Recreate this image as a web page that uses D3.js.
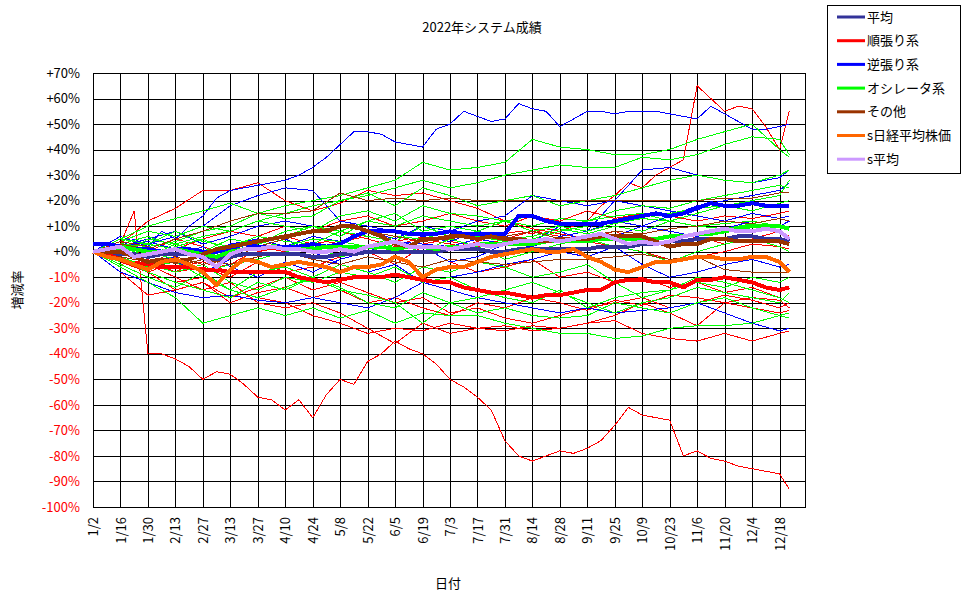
<!DOCTYPE html>
<html>
<head>
<meta charset="utf-8">
<script src="https://cdn.jsdelivr.net/npm/d3@7"></script>
<style>
body { margin: 0; background: #fff; }
text { font-family: "Noto Sans CJK JP", "Noto Sans", sans-serif; }
</style>
</head>
<body>
<div id="chart"></div>
<script>
// tick labels (every 2 weeks) and the weekly sample dates
const tickLabels = ['1/2','1/16','1/30','2/13','2/27','3/13','3/27','4/10','4/24','5/8','5/22','6/5','6/19','7/3','7/17','7/31','8/14','8/28','9/11','9/25','10/9','10/23','11/6','11/20','12/4','12/18'];
const biweekDates = tickLabels.concat(['12/23']);
const weekDates = ['1/2','1/9','1/16','1/23','1/30','2/6','2/13','2/20','2/27','3/6','3/13','3/20','3/27','4/3','4/10','4/17','4/24','5/1','5/8','5/15','5/22','5/29','6/5','6/12','6/19','6/26','7/3','7/10','7/17','7/24','7/31','8/7','8/14','8/21','8/28','9/4','9/11','9/18','9/25','10/2','10/9','10/16','10/23','10/30','11/6','11/13','11/20','11/27','12/4','12/11','12/18','12/23'];
const yTicks = [70,60,50,40,30,20,10,0,-10,-20,-30,-40,-50,-60,-70,-80,-90,-100];

// 順張り系 (thin)
const trend1 = [0,2,3,16,-40,-40,-42,-45,-50,-47,-48,-52,-57,-58,-62,-58,-65,-56,-50,-52,-43,-40,-35,-38,-40,-44,-50,-53,-57,-62,-74,-80,-82,-80,-78,-79,-77,-74,-68,-61,-64,-65,-66,-80,-78,-81,-82,-84,-85,-86,-87,-93];
const trend2 = [0,-2,-3,-5,-8,-6,-8,-5,-4,-6,-5,-2,0,1,0,2,3,4,3,5,6,5,4,5,3,4,3,2,4,6,7,8,7,9,8,10,12,18,22,27,25,30,33,36,65,60,55,57,56,49,40,55];
const trend3 = [0,3,12,17,24,24,27,20,16,19,24,22,23,20,17,12,9,7,5,8,4,2,6,3,5,8,6];
const trend4 = [0,-4,-8,-15,-12,-18,-14,-10,-15,-12,-16,-20,-18,-24,-22,-26,-28,-25,-22,-20,-18,-22,-20,-17,-19,-22,-20];
const trend5 = [0,-3,-8,-12,-10,-15,-18,-20,-25,-28,-32,-30,-31,-28,-30,-29,-31,-30,-28,-25,-20,-24,-29,-20,-18,-19,-22];
const trend6 = [0,2,-5,-10,-15,-12,-20,-22,-20,-24,-30,-36,-28,-32,-30,-31,-29,-30,-28,-27,-32,-34,-35,-32,-35,-32,-31];
const trend7 = [0,-5,-3,-8,-6,-10,-4,-8,-6,-2,0,-5,2,-4,-8,-6,-3,-10,-8,-12,-10,-14,-12,-16,-14,-18,-20];
const trend8 = [0,-8,-17,-15,-12,-20,-16,-14,-18,-15,-20,-18,-22,-25,-20,-22,-18,-20,-23,-19,-21,-17,-18,-20,-22,-24,-23];
const trend9 = [0,3,0,5,2,-2,4,6,3,8,5,2,6,4,2,5,8,6,4,2,0,-3,-2,0,3,2,1];
const trend10 = [0,2,4,1,5,8,6,10,8,12,14,10,12,15,12,10,14,12,16,13,15,14,12,14,13,15,16];

// 逆張り系 (thin)
const contra1 = [0,3,2,5,2,8,5,10,14,21,24,25,26,27,28,30,33,37,42,47,47,46,43,42,41,48,50,55,53,51,52,58,56,55,49,52,55,55,54,55,55,55,54,53,52,57,54,51,48,48,49,50];
const contra2 = [0,2,5,8,3,6,10,12,10,8,6,4,3,2,5,3,2,6,8,20,32,33,30,28,27,29,32];
const contra3 = [0,5,3,6,10,18,22,25,24,12,10,8,6,4,8,6,4,10,8,12,10,14,18,20,22,24,27];
const contra4 = [0,-8,-12,-16,-18,-17,-19,-20,-18,-20,-22,-18,-12,-15,-18,-20,-22,-24,-22,-24,-23,-22,-20,-24,-28,-31,-30];
const contra5 = [0,6,2,-4,-8,-3,2,5,0,-5,-8,-5,-12,-10,-8,-5,-3,0,-2,2,-5,-10,-8,-5,-3,-6,-5];
const contra6 = [0,-3,-5,-2,2,-6,-10,-4,-8,-3,0,4,2,-4,-2,3,5,8,4,6,10,8,6,9,12,10,12];
const contra7 = [0,2,4,1,-3,3,5,2,6,4,8,5,10,8,12,14,22,20,18,20,18,16,14,12,15,13,14];

// オシレータ系 (thin)
const osc1 = [0,3,2,4,8,10,15,18,20,22,25,28,35,32,33,35,44,41,40,38,38,40,44,47,50,40,37];
const osc2 = [0,-2,5,3,6,8,12,15,18,20,22,25,28,25,27,30,32,34,33,33,37,36,38,42,45,44,38];
const osc3 = [0,5,10,13,16,19,15,13,14,20,23,18,25,22,18,20,22,18,20,22,25,28,30,28,27,30,32];
const osc4 = [0,4,8,6,10,8,12,10,8,14,16,12,18,15,14,12,10,13,12,16,18,17,20,22,24,26,25];
const osc5 = [0,2,-2,3,0,5,3,8,10,6,12,15,8,10,8,12,14,10,8,11,13,12,10,9,11,10,9];
const osc6 = [0,-6,-12,-18,-28,-25,-22,-25,-22,-26,-23,-28,-24,-25,-25,-28,-30,-32,-32,-34,-33,-30,-29,-29,-28,-25,-24];
const osc7 = [0,-3,-8,-12,-15,-18,-12,-15,-10,-14,-20,-22,-16,-20,-24,-22,-25,-26,-25,-20,-22,-24,-20,-18,-22,-25,-26];
const osc8 = [0,2,-5,-8,-5,-12,-15,-10,-12,-8,-10,-6,-12,-10,-15,-18,-20,-15,-22,-18,-16,-15,-12,-14,-10,-12,-10];
const osc9 = [0,-4,0,-3,-8,-5,-3,0,2,-2,0,3,0,5,2,-3,0,3,5,2,0,-4,0,3,5,2,0];
const osc10 = [0,5,3,8,4,2,6,4,3,8,6,4,10,6,8,5,6,9,7,10,8,12,10,11,12,10,9];
const osc11 = [0,-2,-6,-4,-10,-15,-8,-6,-10,-5,-8,-12,-6,-8,-4,-6,-10,-8,-5,-12,-18,-15,-10,-12,-15,-18,-20];
const osc12 = [0,3,6,2,5,0,3,6,10,8,12,10,14,12,10,12,8,10,12,14,15,12,15,18,20,22,28];
const osc13 = [0,1,3,1,-2,2,4,2,5,4,2,6,5,8,6,4,5,8,10,12,14,15,17,18,16,19,20];
const osc14 = [0,-5,-10,-14,-8,-15,-18,-14,-10,-15,-17,-20,-28,-20,-18,-15,-12,-16,-20,-24,-20,-18,-14,-16,-18,-20,-16];

// その他 (thin)
const other1 = [0,3,1,5,8,12,15,15,16,23,20,21,20,21,20,20,20,20,20,20,20,20,20,21,21,23,23];
const other2 = [0,-2,-4,-6,-3,-5,-2,0,-3,-5,-2,-4,-6,-3,-4,-5,-4,-3,-3,-2,-1,-3,-2,-7,-8,-8,-8];
const other3 = [0,4,2,-2,-5,-3,2,5,8,10,8,6,4,5,7,6,8,5,6,8,7,9,10,12,11,13,12];

// group averages (weekly)
const avgAll = [0,0,-1,-1,-2,-1,-1,-1,-2,-3,-2,-1,-1,-1,-1,-1,-2,-2,-1,-1,0,0,0,0,0,0,1,1,1,0,0,1,1,1,1,1,1,2,2,2,3,3,4,4,5,5,5,6,6,5,5,4];
const avgTrend = [0,-1,-3,-5,-5,-6,-6,-6,-7,-7,-8,-8,-8,-8,-8,-10,-11,-12,-11,-10,-10,-10,-9,-10,-11,-12,-12,-14,-15,-16,-16,-17,-18,-17,-17,-16,-15,-15,-12,-11,-11,-12,-12,-14,-11,-11,-10,-11,-12,-14,-15,-14];
const avgContra = [3,3,2,1,1,0,1,1,0,0,1,3,2,2,2,2,3,2,3,6,8,8,8,7,7,7,8,7,7,7,7,14,14,12,11,11,11,11,12,13,14,15,14,15,17,19,18,18,19,18,18,18];
const avgOsc = [0,1,2,1,0,0,1,0,-1,-2,0,1,1,2,1,1,1,2,2,2,2,2,1,2,2,1,2,2,3,3,3,3,3,4,4,4,4,5,5,5,5,5,6,6,7,7,8,9,10,10,10,9];
const avgOther = [0,0,0,-2,-4,-3,-4,-3,-1,1,2,3,4,5,6,7,8,8,10,10,8,6,3,2,5,5,6,6,5,6,5,5,4,4,5,5,5,6,6,6,6,4,2,3,3,5,5,4,4,4,4,3];
const nikkei = [0,-2,-3,-5,-7,-4,-3,-5,-8,-13,-7,-3,-4,-6,-5,-4,-5,-6,-8,-6,-6,-5,-2,-4,-10,-7,-6,-6,-4,-2,-1,0,1,0,0,1,-2,-4,-7,-8,-6,-4,-4,-3,-2,-2,-3,-3,-2,-2,-4,-8];
const sAvg = [0,1,2,-2,-1,0,1,-1,-2,-6,-1,1,1,2,1,1,0,0,1,0,2,3,4,2,2,2,1,2,3,2,3,4,4,5,4,5,6,7,5,3,4,3,4,6,7,8,9,8,8,9,8,5];

const legendNames = ['平均','順張り系','逆張り系','オシレータ系','その他','s日経平均株価','s平均'];
const legendColors = ['#333399','#ff0000','#0000ff','#00ff00','#993300','#ff6600','#cc99ff'];

const parseMD = s => { const p = s.split('/'); return new Date(2022, +p[0] - 1, +p[1]); };

const thin = [
	[trend1,'#ff0000'],[trend2,'#ff0000'],[trend3,'#ff0000'],[trend4,'#ff0000'],[trend5,'#ff0000'],
	[trend6,'#ff0000'],[trend7,'#ff0000'],[trend8,'#ff0000'],[trend9,'#ff0000'],[trend10,'#ff0000'],
	[contra1,'#0000ff'],[contra2,'#0000ff'],[contra3,'#0000ff'],[contra4,'#0000ff'],[contra5,'#0000ff'],
	[contra6,'#0000ff'],[contra7,'#0000ff'],
	[osc1,'#00ff00'],[osc2,'#00ff00'],[osc3,'#00ff00'],[osc4,'#00ff00'],[osc5,'#00ff00'],[osc6,'#00ff00'],
	[osc7,'#00ff00'],[osc8,'#00ff00'],[osc9,'#00ff00'],[osc10,'#00ff00'],[osc11,'#00ff00'],[osc12,'#00ff00'],
	[osc13,'#00ff00'],[osc14,'#00ff00'],
	[other1,'#993300'],[other2,'#993300'],[other3,'#993300']
];
const thick = [
	[avgAll,'#333399'],[avgTrend,'#ff0000'],[avgContra,'#0000ff'],[avgOsc,'#00ff00'],
	[avgOther,'#993300'],[nikkei,'#ff6600'],[sAvg,'#cc99ff']
];

const pL = 93, pR = 805, pT = 73, pB = 507;

const svg = d3.select('#chart').append('svg')
	.attr('width', 970)
	.attr('height', 599);

const x = d3.scaleTime()
	.domain([new Date(2022, 0, 2), new Date(2022, 11, 31)])
	.range([pL, pR]);
const y = d3.scaleLinear()
	.domain([-100, 70])
	.range([pB, pT]);

// grid via axes
const yAxis = d3.axisLeft(y)
	.tickValues(yTicks)
	.tickSize(-(pR - pL))
	.tickPadding(13)
	.tickFormat(d => (d < 0 ? '' : '+') + d + '%');
const gy = svg.append('g')
	.attr('transform', 'translate(' + pL + ',0)')
	.call(yAxis);
gy.select('.domain').remove();
gy.selectAll('line').attr('stroke', '#000').attr('shape-rendering', 'crispEdges');
gy.selectAll('text')
	.attr('font-size', 13)
	.attr('font-family', '"Noto Sans CJK JP", sans-serif')
	.attr('fill', d => d < 0 ? '#ff0000' : '#000');

const tickDates = tickLabels.map(parseMD);
const xAxis = d3.axisBottom(x)
	.tickValues(tickDates)
	.tickSize(-(pB - pT))
	.tickFormat(d3.timeFormat('%-m/%-d'));
const gx = svg.append('g')
	.attr('transform', 'translate(0,' + pB + ')')
	.call(xAxis);
gx.select('.domain').remove();
gx.selectAll('line').attr('stroke', '#000').attr('shape-rendering', 'crispEdges');
gx.selectAll('text')
	.attr('font-size', 13)
	.attr('font-family', '"Noto Sans CJK JP", sans-serif')
	.attr('fill', '#000')
	.attr('transform', 'rotate(-90)')
	.attr('x', -10)
	.attr('y', 0)
	.attr('dy', '0.35em')
	.style('text-anchor', 'end');

svg.append('rect')
	.attr('x', pL).attr('y', pT)
	.attr('width', pR - pL).attr('height', pB - pT)
	.attr('fill', 'none').attr('stroke', '#000')
	.attr('shape-rendering', 'crispEdges');

const line = d3.line()
	.x(d => x(d[0]))
	.y(d => y(d[1]));

function pts(vals) {
	const ds = vals.length === weekDates.length ? weekDates : biweekDates;
	return vals.map((v, i) => [parseMD(ds[i]), v]);
}

// aliased strokes, like the original bitmap chart
const plot = svg.append('g').attr('shape-rendering', 'crispEdges');
thin.forEach(s => {
	plot.append('path')
		.attr('d', line(pts(s[0])))
		.attr('fill', 'none')
		.attr('stroke', s[1])
		.attr('stroke-width', 1);
});
thick.forEach(s => {
	plot.append('path')
		.attr('d', line(pts(s[0])))
		.attr('fill', 'none')
		.attr('stroke', s[1])
		.attr('stroke-width', 4)
		.attr('stroke-linejoin', 'round');
});

// titles
svg.append('text')
	.attr('x', 482).attr('y', 32)
	.attr('text-anchor', 'middle')
	.attr('font-size', 13)
	.text('2022年システム成績');
svg.append('text')
	.attr('transform', 'translate(22,290) rotate(-90)')
	.attr('text-anchor', 'middle')
	.attr('font-size', 13)
	.text('増減率');
svg.append('text')
	.attr('x', 448).attr('y', 588)
	.attr('text-anchor', 'middle')
	.attr('font-size', 13)
	.text('日付');

// legend
const lg = svg.append('g');
lg.append('rect')
	.attr('x', 827.5).attr('y', 5.5)
	.attr('width', 133).attr('height', 168)
	.attr('fill', '#fff').attr('stroke', '#000');
legendNames.forEach((n, i) => {
	const ly = 17 + i * 23.7;
	lg.append('line')
		.attr('x1', 837).attr('x2', 865)
		.attr('y1', ly).attr('y2', ly)
		.attr('stroke', legendColors[i])
		.attr('stroke-width', 3);
	lg.append('text')
		.attr('x', 867).attr('y', ly)
		.attr('dy', '0.35em')
		.attr('font-size', 13)
		.text(n);
});
</script>
</body>
</html>
